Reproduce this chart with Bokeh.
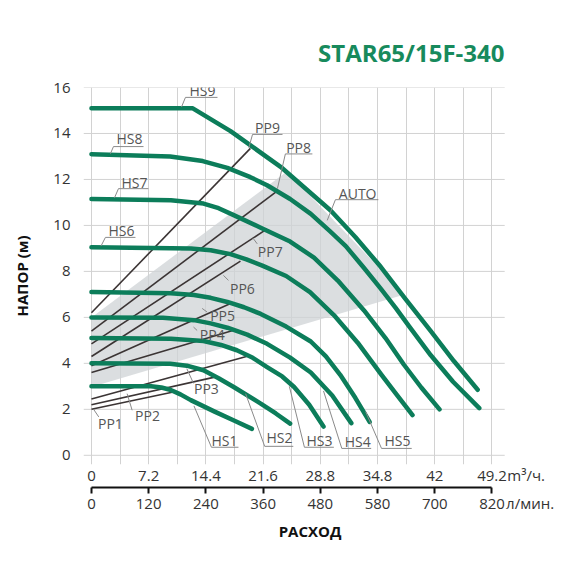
from bokeh.plotting import figure
from bokeh.models import FixedTicker, LinearAxis, Grid
from bokeh.core.properties import value
from bokeh.embed import file_html
from bokeh.resources import INLINE

# axis ticks and labels (units are placed as an extra label right of the last tick)
flow_ticks = [0, 7.2, 14.4, 21.6, 28.8, 36.0, 43.2, 50.4]
flow_labels_m3h = ["0", "7.2", "14.4", "21.6", "28.8", "34.8", "42", "49.2"]
flow_labels_lpm = ["0", "120", "240", "360", "480", "580", "700", "820"]
unit_m3h, unit_m3h_pos = "m³/ч.", 54.7
unit_lpm, unit_lpm_pos = "л/мин.", 55.2
grid_q = [0, 3.6, 7.2, 10.8, 14.4, 18.0, 21.6, 25.2, 28.8, 32.4, 36.0, 39.6, 43.2, 46.8, 50.4]
head_ticks = [0, 2, 4, 6, 8, 10, 12, 14, 16]

# constant speed curves HS1..HS9 (flow m3/h, head m)
hs1_q = [0, 7.5, 8.8, 9.9, 11.2, 12.5, 14.0, 15.5, 18.0, 20.2]
hs1_h = [3.0, 3.0, 2.95, 2.85, 2.65, 2.4, 2.15, 1.9, 1.5, 1.15]
hs2_q = [0, 9.9, 12.0, 14.1, 16.0, 17.9, 21.3, 23.2, 25.0]
hs2_h = [4.0, 3.98, 3.9, 3.7, 3.35, 2.97, 2.25, 1.82, 1.38]
hs3_q = [0, 10.0, 14.1, 16.3, 18.3, 20.3, 22.1, 24.0, 25.5, 27.4, 29.2]
hs3_h = [5.1, 5.07, 4.97, 4.8, 4.57, 4.24, 3.84, 3.43, 2.97, 2.2, 1.25]
hs4_q = [0, 9.0, 12.9, 15.0, 17.1, 19.6, 22.1, 25.0, 27.6, 30.3, 32.7]
hs4_h = [6.0, 5.98, 5.88, 5.74, 5.55, 5.25, 4.85, 4.25, 3.6, 2.6, 1.4]
hs5_q = [0, 10.0, 12.9, 15.0, 17.1, 19.2, 21.3, 24.5, 27.6, 29.5, 31.3, 33.2, 35.0]
hs5_h = [7.1, 7.05, 6.97, 6.85, 6.67, 6.44, 6.15, 5.6, 4.95, 4.3, 3.5, 2.5, 1.45]
hs6_q = [0, 12.5, 15.0, 17.5, 19.5, 21.5, 24.5, 27.5, 30.5, 33.5, 36.5, 38.5, 40.4]
hs6_h = [9.05, 9.0, 8.92, 8.75, 8.52, 8.25, 7.8, 7.1, 6.1, 4.9, 3.5, 2.6, 1.75]
hs7_q = [0, 10.0, 14.1, 16.0, 17.9, 21.3, 25.0, 28.0, 31.0, 34.3, 37.0, 39.3, 41.5, 43.8]
hs7_h = [11.15, 11.1, 10.95, 10.75, 10.45, 9.9, 9.3, 8.6, 7.6, 6.3, 5.1, 3.95, 2.95, 2.0]
hs8_q = [0, 9.9, 14.0, 17.1, 20.0, 22.1, 25.0, 27.6, 30.0, 32.0, 34.3, 36.4, 38.3, 40.0, 42.7, 45.5, 48.8]
hs8_h = [13.1, 13.0, 12.8, 12.5, 12.1, 11.75, 11.15, 10.5, 9.75, 9.1, 8.15, 7.25, 6.4, 5.6, 4.35, 3.2, 2.05]
hs9_q = [0, 12.7, 17.5, 23.8, 30.1, 33.2, 36.4, 39.5, 42.7, 45.6, 48.6]
hs9_h = [15.1, 15.1, 14.1, 12.55, 10.65, 9.5, 8.2, 6.8, 5.4, 4.1, 2.85]

# proportional pressure lines PP1..PP9
pp_start_h = [2.0, 2.2, 2.45, 3.6, 3.9, 4.3, 4.85, 5.4, 6.2]
pp_end_q = [10.3, 15.5, 19.5, 18.0, 17.5, 18.75, 22.1, 23.4, 20.0]
pp_end_h = [2.75, 3.4, 4.3, 5.45, 6.6, 8.45, 9.85, 11.5, 13.35]

# AUTO zone
auto_q = [0, 39.4, 24.6, 0]
auto_h = [2.97, 7.0, 12.35, 6.0]

green = "#0c7d5a"
font = "Open Sans"
grid_color = "#d2d2d2"

p = figure(width=554, height=554, x_range=(-1.0, 56.0), y_range=(-0.4, 16.0),
           x_axis_type=None, output_backend="svg", toolbar_location=None,
           min_border_left=83, min_border_right=18, min_border_top=87, min_border_bottom=90)
p.outline_line_color = None

# title
p.title.text = "STAR65/15F-340"
p.title.align = "right"
p.title.offset = 32
p.title.text_color = "#178a5c"
p.title.text_font = font
p.title.text_font_size = "24px"
p.title.text_font_style = "bold"
p.title.standoff = 37

# grid: vertical lines over the whole height, horizontal ones stop at 52
p.ygrid.visible = False
p.add_layout(Grid(dimension=0, ticker=FixedTicker(ticks=grid_q), grid_line_color=grid_color))
p.segment(x0=-1.0, x1=52.0, y0=head_ticks, y1=head_ticks, line_color=grid_color, line_width=1)

# y axis
p.yaxis.ticker = FixedTicker(ticks=head_ticks)
p.yaxis.axis_line_color = None
p.yaxis.major_tick_line_color = None
p.yaxis.minor_tick_line_color = None
p.yaxis.major_label_text_font = font
p.yaxis.major_label_text_font_size = "15px"
p.yaxis.major_label_text_color = "#333333"
p.yaxis.major_label_standoff = 7
p.yaxis.axis_label = "НАПОР (м)"
p.yaxis.axis_label_text_font = font
p.yaxis.axis_label_text_font_size = "15px"
p.yaxis.axis_label_text_font_style = "bold"
p.yaxis.axis_label_text_color = "#111111"
p.yaxis.axis_label_standoff = 18

label_style = dict(major_label_text_font=font, major_label_text_font_size="15px",
                   major_label_text_color="#333333", axis_line_color=None,
                   major_tick_line_color=None, minor_tick_line_color=None)

# x axis 1: m3/h labels
ax1 = LinearAxis(ticker=FixedTicker(ticks=flow_ticks + [unit_m3h_pos]),
                 major_label_overrides=dict(zip(flow_ticks + [unit_m3h_pos], flow_labels_m3h + [unit_m3h])),
                 major_label_standoff=-6, **label_style)
p.add_layout(ax1, "below")

# x axis 2: black rule with tick marks
ax2 = LinearAxis(ticker=FixedTicker(ticks=[], minor_ticks=flow_ticks), bounds=(0, 50.4),
                 axis_line_color="#111111", axis_line_width=2,
                 major_tick_line_color=None, major_label_standoff=0,
                 major_label_text_font_size="1px",
                 minor_tick_line_color="#111111", minor_tick_line_width=2,
                 minor_tick_in=0, minor_tick_out=6)
p.add_layout(ax2, "below")

# x axis 3: l/min labels
ax3 = LinearAxis(ticker=FixedTicker(ticks=flow_ticks + [unit_lpm_pos]),
                 major_label_overrides=dict(zip(flow_ticks + [unit_lpm_pos], flow_labels_lpm + [unit_lpm])),
                 major_label_standoff=-7, **label_style)
p.add_layout(ax3, "below")

# axis title
ax4 = LinearAxis(ticker=FixedTicker(ticks=[]), bounds=(0, 47.0), axis_line_color=None,
                 major_tick_line_color=None, minor_tick_line_color=None,
                 axis_label="РАСХОД", axis_label_text_font=font, axis_label_text_font_size="15px",
                 axis_label_text_font_style="bold", axis_label_text_color="#111111",
                 axis_label_standoff=5)
p.add_layout(ax4, "below")

# AUTO zone
p.patch(auto_q, auto_h, fill_color="#cfd3d6", fill_alpha=0.75, line_color=None)

# PP lines
p.segment(x0=[0] * len(pp_start_h), y0=pp_start_h, x1=pp_end_q, y1=pp_end_h,
          line_color="#3b3434", line_width=1.6)

# HS curves
for q, h in [(hs1_q, hs1_h), (hs2_q, hs2_h), (hs3_q, hs3_h), (hs4_q, hs4_h), (hs5_q, hs5_h),
             (hs6_q, hs6_h), (hs7_q, hs7_h), (hs8_q, hs8_h), (hs9_q, hs9_h)]:
    p.line(q, h, line_color=green, line_width=4.5, line_join="round", line_cap="round")

# curve labels
lab_text = ["HS9", "HS8", "HS7", "HS6", "PP9", "PP8", "AUTO", "PP7", "PP6", "PP5", "PP4",
            "PP3", "PP2", "PP1", "HS1", "HS2", "HS3", "HS4", "HS5"]
lab_x = [13.97, 4.78, 5.41, 3.78, 22.15, 26.06, 33.5, 22.5, 19.0, 16.5, 15.2,
         14.47, 7.05, 2.39, 16.74, 23.66, 28.7, 33.5, 38.5]
lab_y = [15.87, 13.78, 11.87, 9.78, 14.26, 13.39, 11.39, 8.87, 7.26, 6.09, 5.26,
         2.91, 1.74, 1.39, 0.65, 0.78, 0.65, 0.6, 0.65]
p.text(lab_x, lab_y, text=lab_text, text_font=value(font), text_font_size="14px",
       text_color="#555555", text_align="center", text_baseline="middle")

# underlines and leader lines
lead_x0 = [11.83, 2.77, 3.40, 1.76, 20.27, 24.4, 30.7, 15.1, 21.8, 26.8, 31.5, 36.5,
           11.83, 2.77, 3.40, 1.76, 20.27, 24.4, 30.7, 20.86, 17.24, 14.56, 13.3, 12.84, 5.12, 0.92,
           15.1, 21.8, 26.8, 31.5, 36.5]
lead_y0 = [15.57, 13.43, 11.6, 9.48, 13.96, 13.11, 11.12, 0.35, 0.39, 0.35, 0.3, 0.3,
           15.57, 13.43, 11.6, 9.48, 13.96, 13.11, 11.12, 9.2, 7.61, 6.23, 5.43, 3.13, 1.96, 1.67,
           0.35, 0.39, 0.35, 0.3, 0.3]
lead_x1 = [15.86, 6.55, 7.17, 5.54, 24.04, 27.8, 36.1, 18.5, 25.4, 30.5, 35.2, 40.3,
           11.33, 2.39, 2.9, 1.2, 19.8, 23.4, 29.67, 20.23, 16.6, 13.93, 12.84, 12.0, 4.49, 0.29,
           12.9, 19.4, 24.9, 29.2, 34.5]
lead_y1 = [15.57, 13.43, 11.6, 9.48, 13.96, 13.11, 11.12, 0.35, 0.39, 0.35, 0.3, 0.3,
           15.15, 13.12, 11.2, 9.1, 13.38, 11.6, 10.22, 9.49, 7.83, 6.39, 5.58, 3.77, 2.68, 1.99,
           2.15, 2.68, 3.0, 2.8, 1.9]
p.segment(x0=lead_x0, y0=lead_y0, x1=lead_x1, y1=lead_y1, line_color="#8a8a8a", line_width=1)

open("out.html", "w").write(file_html(p, INLINE))
